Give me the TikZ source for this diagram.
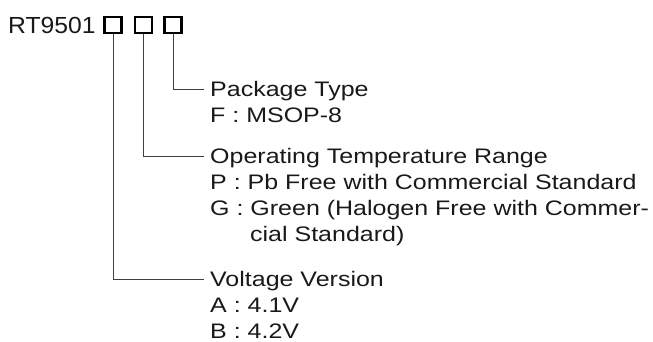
\documentclass[tikz,border=0pt]{standalone}
\usepackage{fontspec}
\setmainfont{Liberation Sans}[FakeStretch=1.19]
\newfontfamily\titlefont{Liberation Sans}[FakeStretch=1.06]
\begin{document}
\begin{tikzpicture}[x=1pt,y=-1pt,
  txt/.style={anchor=base west,inner sep=0pt,font=\fontsize{21}{25}\selectfont,text=black!90},
  box/.style={draw=black,line width=2.3pt,minimum width=17pt,minimum height=16pt,inner sep=0pt},
  conn/.style={draw=black!75,line width=0.9pt}]
\useasboundingbox (0,0) rectangle (653,342);
\node[anchor=base west,inner sep=0pt,font=\titlefont\fontsize{23.3}{25}\selectfont,text=black!90] (pn) at (8,33.3) {RT9501};
\node[box] (b1) at (113,24.7) {};
\node[box] (b2) at (143.5,24.7) {};
\node[box] (b3) at (173,24.7) {};
% text rows
\node[txt] (pt) at (210,96.8) {Package Type};
\node[txt] (pf) at (210,122.8) {F : MSOP-8};
\node[txt] (ot) at (210,163.5) {Operating Temperature Range};
\node[txt] (op) at (210,189.5) {P : Pb Free with Commercial Standard};
\node[txt] (og) at (210,215.5) {G : Green (Halogen Free with Commer-};
\node[txt] (oc) at (250,241.5) {cial Standard)};
\node[txt] (vt) at (210,286.8) {Voltage Version};
\node[txt] (va) at (210,312.8) {A : 4.1V};
\node[txt] (vb) at (210,338.8) {B : 4.2V};
% connector ends
\coordinate (e3) at (204,89.3);
\coordinate (e2) at (204,156);
\coordinate (e1) at (204,279.3);
\draw[conn] (b3.south) |- (e3);
\draw[conn] (b2.south) |- (e2);
\draw[conn] (b1.south) |- (e1);
\end{tikzpicture}
\end{document}
